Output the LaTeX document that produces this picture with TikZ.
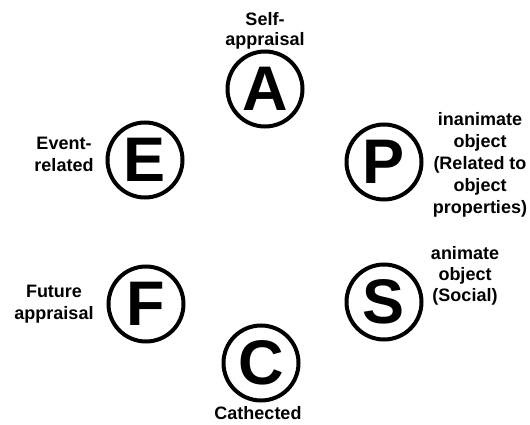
\documentclass[tikz,border=0pt]{standalone}
\usepackage{fontspec}
\setmainfont{Liberation Sans}
\begin{document}
\begin{tikzpicture}[x=1pt,y=-1pt,
  letter/.style={circle,draw,line width=4pt,minimum size=75pt,inner sep=0pt,
    font=\bfseries\fontsize{63}{63}\selectfont},
  lbl/.style={align=center,inner sep=0pt,font=\bfseries\fontsize{18}{22}\selectfont}]
\useasboundingbox (0,0) rectangle (530,425);
\node[letter] (A) at (265,89) {A};
\node[letter] (P) at (384,162) {P};
\node[letter] (E) at (145,160) {E};
\node[letter] (F) at (146,304) {F};
\node[letter] (C) at (261,363) {C};
\node[letter] (S) at (384,302) {S};
\node[lbl,font=\bfseries\fontsize{18}{20.5}\selectfont] (lA) at (265,31) {Self-\\appraisal};
\node[lbl] (lE) at (64,154) {Event-\\related};
\node[lbl] (lF) at (54,304) {Future\\appraisal};
\node[lbl] (lP) at (480,165) {inanimate\\object\\(Related to\\object\\properties)};
\node[lbl,font=\bfseries\fontsize{18}{21}\selectfont] (lS) at (465,276) {animate\\object\\(Social)};
\node[lbl] (lC) at (258,413) {Cathected};
\end{tikzpicture}
\end{document}
